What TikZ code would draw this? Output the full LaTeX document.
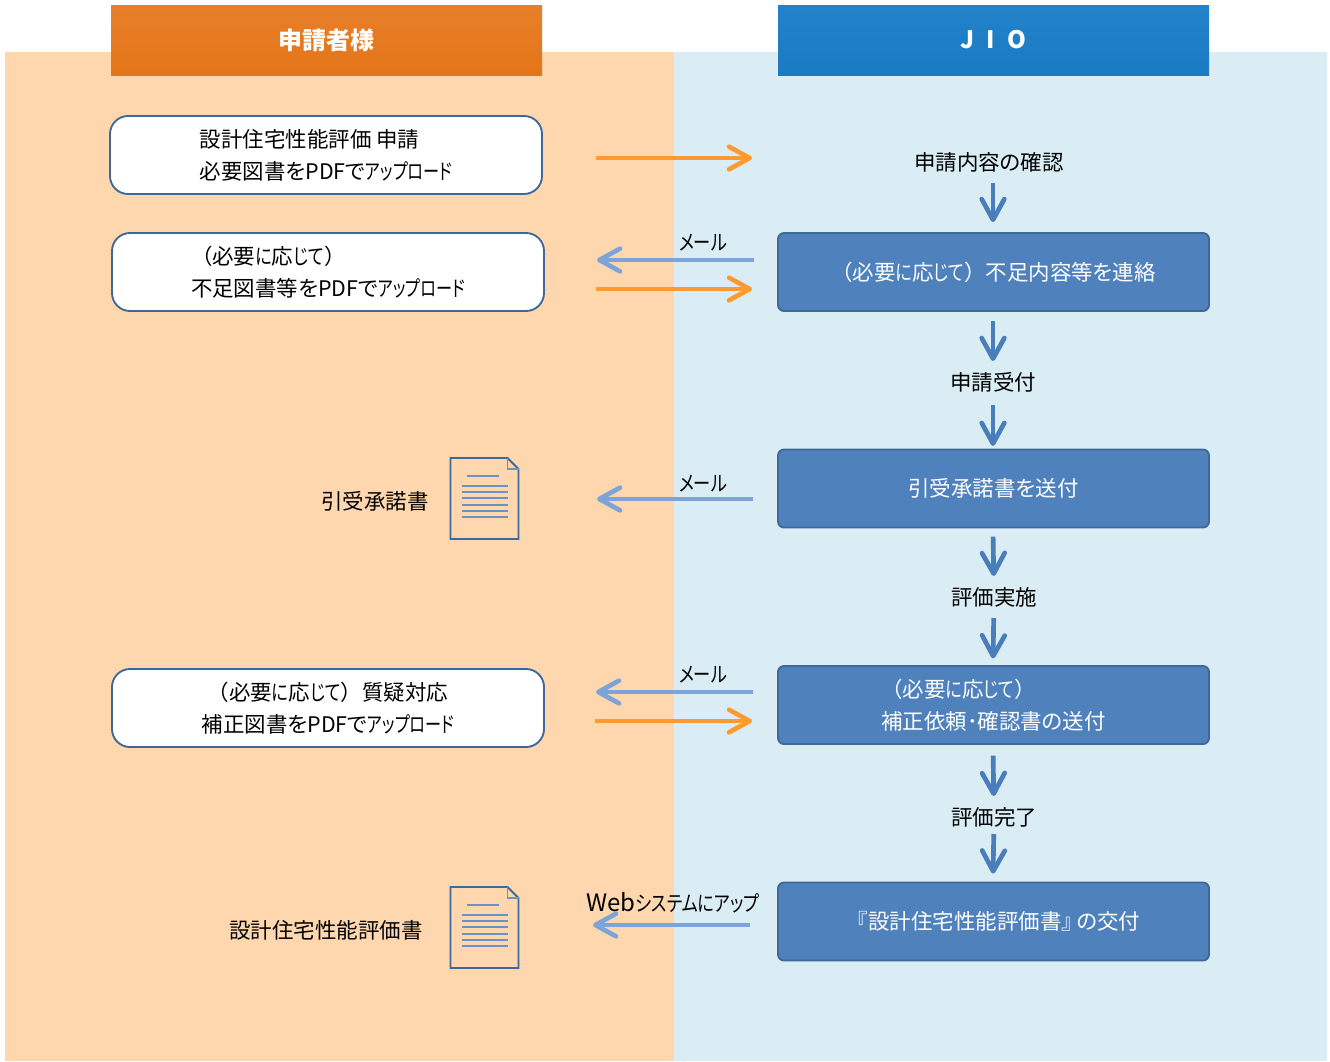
\documentclass[tikz,border=0pt]{standalone}
\usepackage{fontspec}
\setmainfont[RawFeature=+palt]{Noto Sans CJK JP}
\newfontfamily\fwfont{Noto Sans CJK JP}
\newfontfamily\kanafont[FakeStretch=0.8,RawFeature=+palt]{Noto Sans CJK JP}
\newfontfamily\upfont[FakeStretch=0.75,RawFeature=+palt]{Noto Sans CJK JP}
\newcommand{\fw}[1]{{\fwfont #1}}
\newcommand{\kn}[1]{{\kanafont #1}}
\newcommand{\up}{{\upfont アップロード}}
\newcommand{\asneeded}{\fw{（}必要\kn{に}応\kn{じて}\fw{）}}
\usetikzlibrary{arrows.meta}

\definecolor{panelL}{HTML}{FFD7AF}
\definecolor{panelR}{HTML}{DAEDF4}
\definecolor{headLt}{HTML}{E87F2A}
\definecolor{headLb}{HTML}{E47518}
\definecolor{headRt}{HTML}{2383CA}
\definecolor{headRb}{HTML}{1A7AC2}
\definecolor{boxblue}{HTML}{4F81BD}
\definecolor{boxline}{HTML}{3F6797}
\definecolor{arrowO}{HTML}{FF9A33}
\definecolor{arrowB}{HTML}{7CA4D8}
\definecolor{arrowD}{HTML}{4A7EBB}

\tikzset{
  docicon/.pic={
    \draw[boxline,line width=1.4pt,line join=miter] (0,0) -- (57,0) -- (68,11) -- (68,81) -- (0,81) -- cycle;
    \draw[arrowB!70!boxline,line width=1.2pt] (57,0) -- (57,11) -- (68,11);
    \draw[arrowB!70!boxline,line width=1.7pt] (16,18) -- (48,18);
    \foreach \y in {28,34,40,47,53,59}
      \draw[arrowB!70!boxline,line width=1.7pt] (11,\y) -- (57,\y);
  }
}

\begin{document}
\begin{tikzpicture}[x=0.75pt,y=-0.75pt,>={Straight Barb[round,length=15.5pt,width=17pt]},
    head/.style={minimum width=323.25pt,minimum height=52.5pt,text=white,font=\fontsize{18}{22}\selectfont\bfseries,inner sep=0pt},
    whitebox/.style={draw=boxline,fill=white,line width=1.4pt,rounded corners=13.5pt,minimum width=324pt,minimum height=58.5pt,inner sep=0pt,font=\fontsize{16.1}{24}\selectfont},
    bluebox/.style={draw=boxline,fill=boxblue,line width=1.4pt,rounded corners=4.5pt,minimum width=323.25pt,minimum height=58.5pt,inner sep=0pt,text=white,align=center,font=\fontsize{16.1}{24}\selectfont},
    plain/.style={text height=22pt,text depth=9.5pt,inner sep=0pt,outer sep=0pt,font=\fontsize{16.1}{20}\selectfont},
    label/.style={inner sep=0pt,font=\fontsize{16.1}{20}\selectfont},
    down/.style={->,draw=arrowD,line width=3.5pt},
    send/.style={->,draw=arrowO,line width=3.5pt},
    back/.style={->,draw=arrowB,line width=3.5pt}]

  \useasboundingbox (0,0) rectangle (1330,1061);
  \fill[white] (0,0) rectangle (1330,1061);
  \fill[panelL] (5,52) rectangle (673.5,1061);
  \fill[panelR] (673.5,52) rectangle (1327,1061);

  \node[head,top color=headLt,bottom color=headLb] (headL) at (326.5,40) {申請者様};
  \node[head,top color=headRt,bottom color=headRb] (headR) at (993.5,40) {J\hspace{9pt}I\hspace{9pt}O};

  \node[whitebox,align=left] (L1) at (326,155) {設計住宅性能評価 申請\\必要図書をPDFで\up};
  \node[whitebox,align=left] (L2) at (328,272) {\asneeded\\不足図書等をPDFで\up};
  \node[whitebox,align=center] (L3) at (328,708) {\asneeded 質疑対応\\補正図書をPDFで\up};

  \node[plain] (R1) at (989,162) {申請内容の確認};
  \node[bluebox] (R2) at (993.5,272) {\asneeded 不足内容等を連絡};
  \node[plain] (R3) at (993,382) {申請受付};
  \node[bluebox] (R4) at (993.5,488.5) {引受承諾書を送付};
  \node[plain] (R5) at (994,597) {評価実施};
  \node[bluebox,align=left] (R6) at (993.5,705) {\asneeded\\補正依頼･確認書の送付};
  \node[plain] (R7) at (994,817) {評価完了};
  \node[bluebox] (R8) at (993.5,921.5) {\fw{『}設計住宅性能評価書\fw{』}\hspace{-5pt}の交付};

  % down the JIO side
  \coordinate (R1s) at (993,162);
  \coordinate (R3e) at (993,382);
  \coordinate (R5e) at (993,597);
  \coordinate (R7e) at (993,817);
  \path (R1s) edge[down,shorten <=15.75pt,shorten >=7.5pt] (R2.north-|R1s)
        (R2.south-|R3e) edge[down,shorten <=6.75pt] (R3)
        (R3) edge[down,shorten <=1.5pt,shorten >=2pt] (R4.north-|R3e)
        (R4.south-|R5e) edge[down,shorten <=6.2pt] (R5)
        (R5) edge[down,shorten >=5pt] (R6.north-|R5e)
        (R6.south-|R7e) edge[down,shorten <=8pt] (R7)
        (R7) edge[down,shorten <=-3pt,shorten >=6pt] (R8.north-|R7e);

  \coordinate (a1) at (596,158);
  \coordinate (b1) at (752,158);
  \coordinate (a2) at (754,260);
  \coordinate (b2) at (597,260);
  \coordinate (a3) at (596,289);
  \coordinate (b3) at (752,289);
  \coordinate (a4) at (753,499);
  \coordinate (b4) at (597,499);
  \coordinate (a5) at (753,692);
  \coordinate (b5) at (596,692);
  \coordinate (a6) at (595,721);
  \coordinate (b6) at (752,721);
  \coordinate (a7) at (750,925);
  \coordinate (b7) at (593,925);

  \draw[send] (a1) -- (b1);
  \draw[back] (a2) -- (b2);
  \draw[send] (a3) -- (b3);
  \draw[back] (a4) -- (b4);
  \draw[back] (a5) -- (b5);
  \draw[send] (a6) -- (b6);
  \draw[back] (a7) -- (b7);

  \node[label] (m1) at (703,243) {\kn{メール}};
  \node[label] (m2) at (703,484) {\kn{メール}};
  \node[label] (m3) at (703,675) {\kn{メール}};
  \node[label] (m4) at (673,903) {{\fontsize{18}{20}\selectfont Web}\kn{システムにアップ}};

  \node[label] (d1) at (375,501) {引受承諾書};
  \node[label] (d2) at (326,930) {設計住宅性能評価書};
  \pic at (450.5,458) {docicon};
  \pic at (450.5,887) {docicon};
\end{tikzpicture}
\end{document}
